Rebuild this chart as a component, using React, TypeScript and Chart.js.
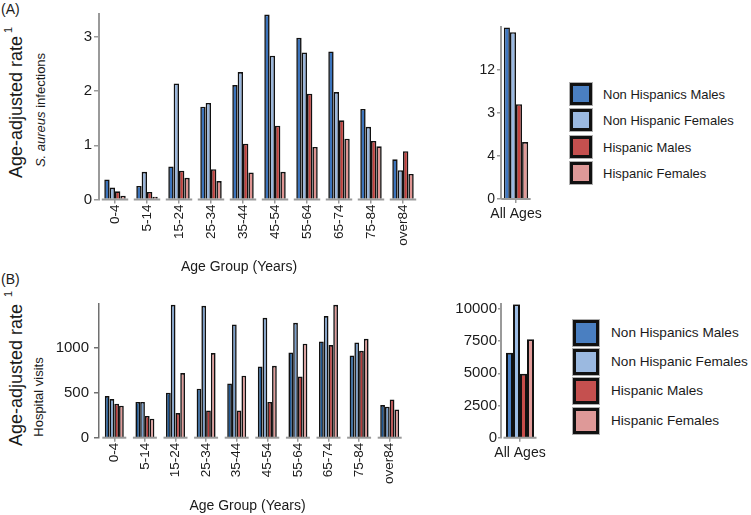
import React, { useEffect, useRef } from "react";
import { Chart, registerables } from "chart.js";

Chart.register(...registerables);

// ---------- data ----------
const ageGroups = ["0-4", "5-14", "15-24", "25-34", "35-44", "45-54", "55-64", "65-74", "75-84", "over84"];
const seriesNames = ["Non Hispanics Males", "Non Hispanic Females", "Hispanic Males", "Hispanic Females"];
const allAgesLabel = ["All Ages"];

// (A) S. aureus infections, age-adjusted rate
const infNHMales = [0.37, 0.25, 0.61, 1.71, 2.11, 3.41, 2.98, 2.73, 1.67, 0.74];
const infNHFemales = [0.22, 0.51, 2.14, 1.78, 2.35, 2.65, 2.71, 1.98, 1.34, 0.54];
const infHMales = [0.15, 0.14, 0.53, 0.56, 1.03, 1.36, 1.95, 1.46, 1.08, 0.89];
const infHFemales = [0.07, 0.05, 0.40, 0.34, 0.50, 0.51, 0.97, 1.12, 0.98, 0.47];
const infTicks = [0, 1, 2, 3];
// All ages panel (values in axis units; the axis carries the printed labels below)
const infAllAges = [3.98, 3.87, 2.2, 1.32];
const infAllAgesTickValues = [0, 1, 2, 3];
const infAllAgesTicks = ["0", "4", "3", "12"];

// (B) Hospital visits, age-adjusted rate
const visNHMales = [461, 395, 498, 542, 601, 789, 944, 1066, 911, 361];
const visNHFemales = [428, 395, 1471, 1460, 1254, 1327, 1272, 1346, 1055, 343];
const visHMales = [376, 240, 273, 302, 302, 395, 678, 1025, 962, 424];
const visHFemales = [354, 210, 715, 937, 686, 796, 1040, 1471, 1095, 313];
const visTicks = [0, 500, 1000];
const visAllAges = [6600, 10360, 4970, 7640];
const visAllAgesTicks = [0, 2500, 5000, 7500, 10000];

// ---------- styles ----------
const FONT = '"Liberation Sans", Arial, Helvetica, sans-serif';
const TEXT = "#1a1a1a";
const colorsA = ["#3c74bc", "#98b6de", "#c0403d", "#df9593"];
const colorsAall = ["#4078c2", "#9ab9e2", "#c4433f", "#e29a98"];
const colorsB = ["#1d5591", "#7a9fcc", "#b73b3b", "#e19b99"];
const colorsBall = ["#4a80c4", "#9dbde5", "#c84d4a", "#e29c9a"];
const legendColors = ["#4a7fc1", "#9bb9e0", "#c5504f", "#de9998"];

const groupAxisPlugin = {
  id: "groupAxis",
  afterDatasetsDraw(chart: any, _args: any, opts: any) {
    const x = chart.scales.x;
    const y = chart.chartArea.bottom;
    const n = chart.data.labels.length;
    const catW = x.width / n;
    const half = (catW * opts.pct) / 2 + opts.extra;
    const ctx = chart.ctx;
    ctx.save();
    ctx.strokeStyle = opts.color;
    ctx.lineWidth = opts.width;
    for (let i = 0; i < n; i++) {
      const cx = x.getPixelForTick(i);
      ctx.beginPath();
      ctx.moveTo(cx - half, y);
      ctx.lineTo(cx + half, y);
      ctx.stroke();
    }
    ctx.restore();
  },
};

type Cfg = {
  labels: string[];
  series: number[][];
  colors: string[];
  pct: number;
  yMax: number;
  tickValues: number[];
  tickLabels?: string[];
  yFont: number;
  xFont: number;
  padTop: number;
  padRight: number;
  yWidth: number;
  xHeight: number;
  rotate: boolean;
  yTickLen: number;
  yTickPad: number;
  xTickPad: number;
  axisColor: string;
  axisWidth: number;
  borderWidth: number;
};

function makeConfig(c: Cfg): any {
  return {
    type: "bar",
    data: {
      labels: c.labels,
      datasets: c.series.map((s, i) => ({
        label: seriesNames[i],
        data: s,
        backgroundColor: c.colors[i],
        borderColor: "#111111",
        borderWidth: c.borderWidth,
        categoryPercentage: c.pct,
        barPercentage: 1,
      })),
    },
    options: {
      responsive: false,
      animation: false,
      events: [],
      layout: { padding: { top: c.padTop, right: c.padRight, bottom: 0, left: 0 } },
      plugins: {
        legend: { display: false },
        tooltip: { enabled: false },
        title: { display: false },
        groupAxis: { pct: c.pct, extra: 2.5, color: "#9a9a9a", width: 2 },
      },
      scales: {
        x: {
          offset: true,
          grid: { offset: false, drawOnChartArea: false, drawTicks: true, tickLength: 4, color: "#9a9a9a", lineWidth: 1.5 },
          border: { display: false },
          ticks: {
            autoSkip: false,
            maxRotation: c.rotate ? 90 : 0,
            minRotation: c.rotate ? 90 : 0,
            padding: c.xTickPad,
            color: TEXT,
            font: { family: FONT, size: c.xFont },
          },
          afterFit: (s: any) => {
            s.height = c.xHeight;
          },
        },
        y: {
          min: 0,
          max: c.yMax,
          grid: { drawOnChartArea: false, drawTicks: true, tickLength: c.yTickLen, color: c.axisColor, lineWidth: 1.5 },
          border: { display: true, color: c.axisColor, width: c.axisWidth },
          ticks: {
            padding: c.yTickPad,
            color: TEXT,
            font: { family: FONT, size: c.yFont },
            callback: (v: any, i: number) => (c.tickLabels ? c.tickLabels[i] : String(v)),
          },
          afterBuildTicks: (s: any) => {
            s.ticks = c.tickValues.map((v) => ({ value: v }));
          },
          afterFit: (s: any) => {
            s.width = c.yWidth;
          },
        },
      },
    },
    plugins: [groupAxisPlugin],
  };
}

function ChartBox(props: { config: any; left: number; top: number; width: number; height: number }) {
  const ref = useRef<HTMLCanvasElement>(null);
  useEffect(() => {
    const chart = new Chart(ref.current as HTMLCanvasElement, props.config);
    return () => chart.destroy();
  }, []);
  return (
    <canvas
      ref={ref}
      width={props.width}
      height={props.height}
      style={{ position: "absolute", left: props.left, top: props.top, width: props.width, height: props.height }}
    />
  );
}

function Rot(props: { cx: number; cy: number; size: number; children: any }) {
  return (
    <div
      style={{
        position: "absolute",
        left: props.cx,
        top: props.cy,
        transform: "translate(-50%,-50%) rotate(-90deg)",
        whiteSpace: "nowrap",
        fontFamily: FONT,
        fontSize: props.size,
        lineHeight: 1,
        color: TEXT,
      }}
    >
      {props.children}
    </div>
  );
}

function Text(props: { cx: number; cy: number; size: number; children: any; left?: boolean }) {
  return (
    <div
      style={{
        position: "absolute",
        left: props.cx,
        top: props.cy,
        transform: props.left ? "translate(0,-50%)" : "translate(-50%,-50%)",
        whiteSpace: "nowrap",
        fontFamily: FONT,
        fontSize: props.size,
        lineHeight: 1,
        color: TEXT,
      }}
    >
      {props.children}
    </div>
  );
}

function Legend(props: { left: number; top: number; gap: number; box: number; textLeft: number; font: number }) {
  return (
    <>
      {seriesNames.map((name, i) => (
        <React.Fragment key={name}>
          <div
            style={{
              position: "absolute",
              left: props.left,
              top: props.top + i * props.gap,
              width: props.box,
              height: props.box,
              boxSizing: "border-box",
              border: "3px solid #111",
              background: legendColors[i],
              boxShadow: "0 0 0 1px #b0b0b0",
            }}
          />
          <Text cx={props.textLeft} cy={props.top + i * props.gap + props.box / 2} size={props.font} left>
            {name}
          </Text>
        </React.Fragment>
      ))}
    </>
  );
}

export default function App() {
  const cfgAmain = makeConfig({
    labels: ageGroups,
    series: [infNHMales, infNHFemales, infHMales, infHFemales],
    colors: colorsA,
    pct: 0.67,
    yMax: 3.42,
    tickValues: infTicks,
    yFont: 15,
    xFont: 13.5,
    padTop: 14,
    padRight: 10,
    yWidth: 49,
    xHeight: 60.5,
    rotate: true,
    yTickLen: 5,
    yTickPad: 2,
    xTickPad: 1,
    axisColor: "#9a9a9a",
    axisWidth: 2,
    borderWidth: 1.6,
  });
  const cfgAall = makeConfig({
    labels: allAgesLabel,
    series: infAllAges.map((v) => [v]),
    colors: colorsAall,
    pct: 0.81,
    yMax: 4,
    tickValues: infAllAgesTickValues,
    tickLabels: infAllAgesTicks,
    yFont: 14,
    xFont: 14,
    padTop: 26.6,
    padRight: 30,
    yWidth: 51,
    xHeight: 40,
    rotate: false,
    yTickLen: 4,
    yTickPad: 2,
    xTickPad: 3,
    axisColor: "#9a9a9a",
    axisWidth: 2,
    borderWidth: 1.6,
  });
  const cfgBmain = makeConfig({
    labels: ageGroups,
    series: [visNHMales, visNHFemales, visHMales, visHFemales],
    colors: colorsB,
    pct: 0.62,
    yMax: 1480,
    tickValues: visTicks,
    yFont: 15,
    xFont: 13.5,
    padTop: 13.9,
    padRight: 10,
    yWidth: 49,
    xHeight: 60.3,
    rotate: true,
    yTickLen: 5,
    yTickPad: 5,
    xTickPad: 1,
    axisColor: "#707070",
    axisWidth: 1.5,
    borderWidth: 1.6,
  });
  const cfgBall = makeConfig({
    labels: allAgesLabel,
    series: visAllAges.map((v) => [v]),
    colors: colorsBall,
    pct: 0.737,
    yMax: 10363,
    tickValues: visAllAgesTicks,
    yFont: 15,
    xFont: 14,
    padTop: 14.3,
    padRight: 30,
    yWidth: 51,
    xHeight: 40.3,
    rotate: false,
    yTickLen: 3,
    yTickPad: 1,
    xTickPad: 3,
    axisColor: "#9a9a9a",
    axisWidth: 2,
    borderWidth: 2,
  });

  return (
    <div style={{ position: "absolute", left: 0, top: 0, width: 751, height: 515, background: "#fff", overflow: "hidden" }}>
      <ChartBox config={cfgAmain} left={50} top={0} width={379} height={260} />
      <ChartBox config={cfgAall} left={450} top={0} width={111} height={239} />
      <ChartBox config={cfgBmain} left={50} top={290} width={365} height={208} />
      <ChartBox config={cfgBall} left={450} top={290} width={119} height={188} />

      <Text cx={1} cy={9} size={14} left>(A)</Text>
      <Text cx={1} cy={279} size={14} left>(B)</Text>

      <Rot cx={16} cy={107} size={18}>Age-adjusted rate</Rot>
      <Rot cx={8} cy={30} size={11}>1</Rot>
      <Rot cx={40} cy={110} size={13}>
        <i>S. aureus</i> infections
      </Rot>

      <Rot cx={16} cy={375} size={18}>Age-adjusted rate</Rot>
      <Rot cx={8} cy={294} size={11}>1</Rot>
      <Rot cx={38} cy={397} size={13}>Hospital visits</Rot>

      <Text cx={239} cy={266} size={14}>Age Group (Years)</Text>
      <Text cx={247.5} cy={505} size={14}>Age Group (Years)</Text>

      <Legend left={570} top={83} gap={26.4} box={22} textLeft={603} font={13} />
      <Legend left={573} top={320} gap={29.2} box={26} textLeft={611} font={13.6} />
    </div>
  );
}
